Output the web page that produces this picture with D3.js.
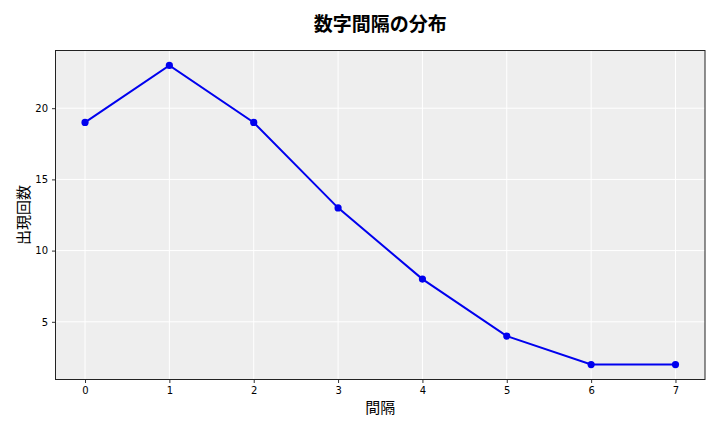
<!DOCTYPE html>
<meta charset="utf-8">
<style>
  body { margin: 0; background: #fff; }
  text { font-family: "Noto Sans CJK JP", "DejaVu Sans", sans-serif; }
</style>
<body>
<div id="chart"></div>
<script src="https://d3js.org/d3.v7.min.js"></script>
<script>
// intervals and how often each shows up
const intervals = [0, 1, 2, 3, 4, 5, 6, 7];
const counts = [19, 23, 19, 13, 8, 4, 2, 2];
const yTicks = [5, 10, 15, 20];

const W = 720, H = 432;
const margin = { top: 50.5, right: 15, bottom: 52.5, left: 55.5 };
const width = W - margin.left - margin.right;
const height = H - margin.top - margin.bottom;

const svg = d3.select("#chart").append("svg")
    .attr("width", W)
    .attr("height", H);

// matplotlib style 5% padding
const xPad = (d3.max(intervals) - d3.min(intervals)) * 0.05;
const yPad = (d3.max(counts) - d3.min(counts)) * 0.05;

const x = d3.scaleLinear()
    .domain([d3.min(intervals) - xPad, d3.max(intervals) + xPad])
    .range([0, width]);
const y = d3.scaleLinear()
    .domain([d3.min(counts) - yPad, d3.max(counts) + yPad])
    .range([height, 0]);

const g = svg.append("g")
    .attr("transform", `translate(${margin.left},${margin.top})`);

g.append("rect")
    .attr("width", width)
    .attr("height", height)
    .attr("fill", "#eeeeee");

// grid
g.selectAll(".vgrid").data(intervals).join("line")
    .attr("x1", d => x(d)).attr("x2", d => x(d))
    .attr("y1", 0).attr("y2", height)
    .attr("stroke", "#fff").attr("stroke-width", 1);
g.selectAll(".hgrid").data(yTicks).join("line")
    .attr("y1", d => y(d)).attr("y2", d => y(d))
    .attr("x1", 0).attr("x2", width)
    .attr("stroke", "#fff").attr("stroke-width", 1);

// axes
const xAxis = g.append("g")
    .attr("transform", `translate(0,${height})`)
    .call(d3.axisBottom(x).tickValues(intervals).tickFormat(d3.format("d")).tickSizeOuter(0).tickSize(3.5).tickPadding(4));
const yAxis = g.append("g")
    .call(d3.axisLeft(y).tickValues(yTicks).tickSizeOuter(0).tickSize(3.5).tickPadding(4));

[xAxis, yAxis].forEach(a => {
  a.select(".domain").remove();
  a.selectAll(".tick text")
    .attr("font-size", 10)
    .attr("fill", "#000")
    .style("font-family", "'DejaVu Sans', sans-serif");
  a.selectAll(".tick line").attr("stroke", "#333");
});

g.append("rect")
    .attr("width", width)
    .attr("height", height)
    .attr("fill", "none")
    .attr("stroke", "#222")
    .attr("stroke-width", 1);

// line + markers
const line = d3.line()
    .x((d, i) => x(intervals[i]))
    .y(d => y(d));

g.append("path")
    .datum(counts)
    .attr("d", line)
    .attr("fill", "none")
    .attr("stroke", "#0000ee")
    .attr("stroke-width", 2);

g.selectAll(".pt").data(counts).join("circle")
    .attr("cx", (d, i) => x(intervals[i]))
    .attr("cy", d => y(d))
    .attr("r", 3.6)
    .attr("fill", "#0000ee");

// title and labels
svg.append("text")
    .attr("x", margin.left + width / 2)
    .attr("y", 31)
    .attr("text-anchor", "middle")
    .attr("font-size", 19)
    .attr("font-weight", "bold")
    .text("数字間隔の分布");

svg.append("text")
    .attr("x", margin.left + width / 2)
    .attr("y", 413)
    .attr("text-anchor", "middle")
    .attr("font-size", 15)
    .text("間隔");

svg.append("text")
    .attr("transform", `translate(29,${margin.top + height / 2}) rotate(-90)`)
    .attr("text-anchor", "middle")
    .attr("font-size", 15)
    .text("出現回数");
</script>
</body>
